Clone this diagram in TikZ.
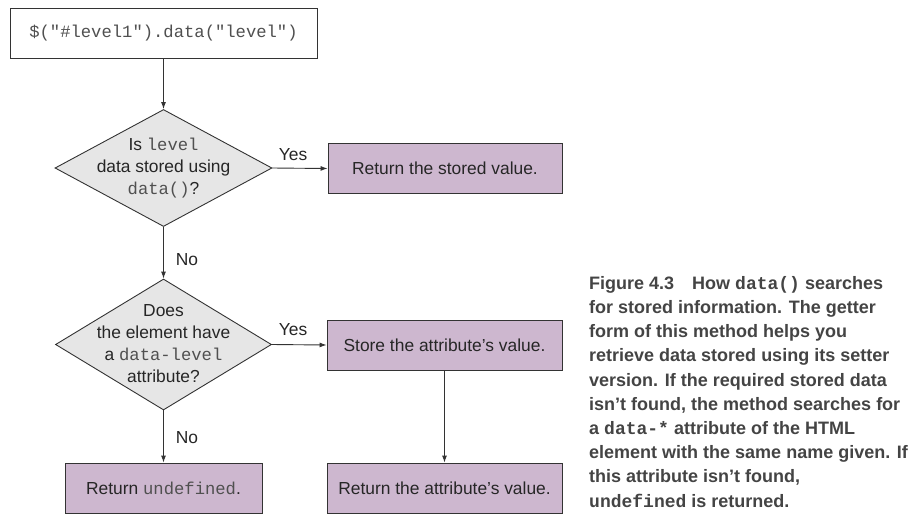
\documentclass[tikz,border=0pt]{standalone}
\usepackage{fontspec}
\setmainfont{Liberation Sans}
\setmonofont{Liberation Mono}
\newfontfamily\capfont{Liberation Sans}
\newfontfamily\capmono{Liberation Mono}
\usetikzlibrary{shapes.geometric,arrows.meta}
\definecolor{boxpurple}{HTML}{CDB7CF}
\definecolor{diagray}{HTML}{E6E6E6}
\definecolor{edgegray}{HTML}{333333}
\definecolor{monogray}{HTML}{505050}
\definecolor{capgray}{HTML}{444444}
\newcommand{\mc}[1]{{\ttfamily\fontsize{17.2}{21.5}\selectfont\color{monogray}#1}}
\newcommand{\cm}[1]{{\capmono\bfseries #1}}
\tikzset{
  txt/.style={font=\fontsize{17.4}{22}\selectfont, text=black!85},
  startbox/.style={draw=edgegray, line width=0.9pt, fill=white, minimum width=307pt, minimum height=50pt, inner sep=0pt, txt},
  actbox/.style={draw=edgegray, line width=0.9pt, fill=boxpurple, minimum height=50pt, inner sep=0pt, txt},
  decision/.style={diamond, draw=edgegray, line width=0.9pt, fill=diagray, inner sep=0pt},
  dtext/.style={align=center, txt, inner sep=0pt},
  conn/.style={draw=edgegray, line width=0.9pt, -{Latex[length=7pt,width=5pt]}},
  lbl/.style={txt, inner sep=0pt},
}
\begin{document}
\begin{tikzpicture}[x=1pt,y=-1pt]
\useasboundingbox (0,0) rectangle (924,528);
\node[startbox] (start) at (163.5,33) {\mc{\$("\#level1").data("level")}};
\node[decision, minimum width=217pt, minimum height=117pt] (d1) at (163.5,168) {};
\node[dtext] (d1t) at (163.5,168.5) {Is \mc{level}\\data stored using\\\mc{data()}?};
\node[actbox, minimum width=234pt] (r1) at (445,168.5) {Return the stored value.};
\node[decision, minimum width=216pt, minimum height=131pt] (d2) at (163.5,344.5) {};
\node[dtext] (d2t) at (163.5,344) {Does\\the element have\\a \mc{data-level}\\attribute?};
\node[actbox, minimum width=235pt] (s) at (444.5,345) {Store the attribute’s value.};
\node[actbox, minimum width=197pt] (ru) at (163.5,488) {Return \mc{undefined}.};
\node[actbox, minimum width=235pt] (ra) at (444.5,488) {Return the attribute’s value.};

\draw[conn] (start.south) -- (d1.north);
\draw[conn] (d1.east) -- (r1.west);
\draw[conn] (d1.south) -- (d2.north);
\draw[conn] (d2.east) -- (s.west);
\draw[conn] (d2.south) -- (ru.north);
\draw[conn] (s.south) -- (ra.north);

\node[lbl] (y1) at (293,155) {Yes};
\node[lbl] (n1) at (187,260) {No};
\node[lbl] (y2) at (293,330) {Yes};
\node[lbl] (n2) at (187,438) {No};

\node[anchor=north west, inner sep=0pt, align=left, text=capgray,
      font=\capfont\bfseries\fontsize{18}{24.2}\selectfont] (cap) at (589,276)
{Figure 4.3\quad How \cm{data()} searches\\
for stored information. The getter\\
form of this method helps you\\
retrieve data stored using its setter\\
version. If the required stored data\\
isn’t found, the method searches for\\
a \cm{data-*} attribute of the HTML\\
element with the same name given. If\\
this attribute isn’t found,\\
\cm{undefined} is returned.};
\end{tikzpicture}
\end{document}
